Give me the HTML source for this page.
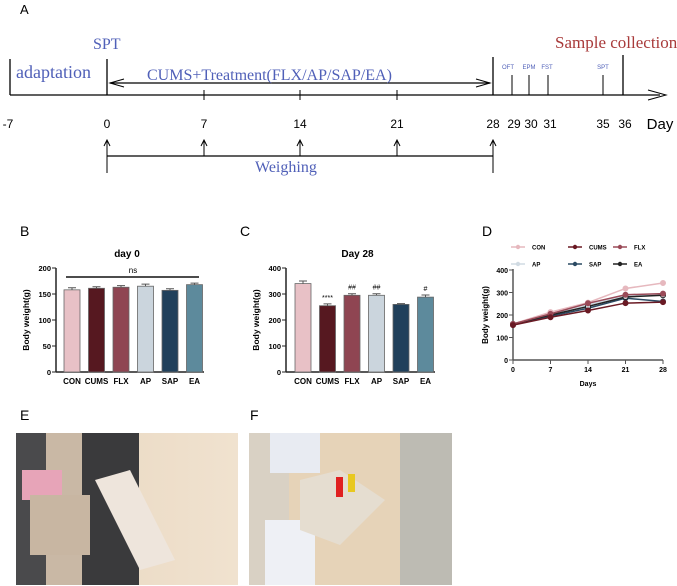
<!DOCTYPE html>
<html><head><meta charset="utf-8"><style>
body{margin:0;background:#fff;width:677px;height:586px;overflow:hidden;font-family:"Liberation Sans",sans-serif}
svg{position:absolute;left:0;top:0}
</style></head><body>
<svg width="677" height="586" viewBox="0 0 677 586">
<defs>
<linearGradient id="wood" x1="0" x2="1"><stop offset="0" stop-color="#e8d6bf"/><stop offset="1" stop-color="#f0e2cf"/></linearGradient>
</defs>
<!-- Panel A timeline -->
<g font-family="Liberation Serif, serif">
<text x="20" y="14" font-family="Liberation Sans" font-size="13">A</text>
<line x1="10" y1="95" x2="660" y2="95" stroke="#000" stroke-width="1.3"/>
<path d="M648 90 L666 95 L648 100" fill="none" stroke="#000" stroke-width="1"/>
<line x1="10" y1="59" x2="10" y2="95" stroke="#000" stroke-width="1.3"/>
<line x1="107" y1="59" x2="107" y2="95" stroke="#000" stroke-width="1.3"/>
<line x1="493" y1="57" x2="493" y2="95" stroke="#000" stroke-width="1.3"/>
<line x1="623" y1="55" x2="623" y2="95" stroke="#000" stroke-width="1.3"/>
<line x1="512" y1="75" x2="512" y2="95" stroke="#000"/>
<line x1="529" y1="75" x2="529" y2="95" stroke="#000"/>
<line x1="548" y1="75" x2="548" y2="95" stroke="#000"/>
<line x1="603" y1="75" x2="603" y2="95" stroke="#000"/>
<line x1="204" y1="90" x2="204" y2="100" stroke="#000"/>
<line x1="300" y1="90" x2="300" y2="100" stroke="#000"/>
<line x1="397" y1="90" x2="397" y2="100" stroke="#000"/>
<line x1="110" y1="83" x2="490" y2="83" stroke="#000" stroke-width="1.2"/>
<path d="M124 79 L110 83 L124 87 M476 79 L490 83 L476 87" fill="none" stroke="#000"/>
<g font-family="Liberation Sans" font-size="12" text-anchor="middle">
<text x="8" y="128">-7</text><text x="107" y="128">0</text><text x="204" y="128">7</text><text x="300" y="128">14</text><text x="397" y="128">21</text><text x="493" y="128">28</text><text x="514" y="128">29</text><text x="531" y="128">30</text><text x="550" y="128">31</text><text x="603" y="128">35</text><text x="625" y="128">36</text>
<text x="660" y="129" font-size="15">Day</text></g>
<text x="16" y="78" font-size="18" fill="#5060b8">adaptation</text>
<text x="93" y="49" font-size="16" fill="#5060b8">SPT</text>
<text x="147" y="80" font-size="16" fill="#5060b8">CUMS+Treatment(FLX/AP/SAP/EA)</text>
<text x="555" y="48" font-size="17" fill="#a83a3a">Sample collection</text>
<g font-family="Liberation Sans" font-size="6" fill="#5060b8" text-anchor="middle"><text x="508" y="69">OFT</text><text x="529" y="69">EPM</text><text x="547" y="69">FST</text><text x="603" y="69">SPT</text></g>
<line x1="107" y1="156" x2="493" y2="156" stroke="#000" stroke-width="1.2"/>
<line x1="107" y1="140" x2="107" y2="173" stroke="#000"/>
<line x1="493" y1="140" x2="493" y2="173" stroke="#000"/>
<g stroke="#000" fill="none"><path d="M204 156V140M201 146L204 140L207 146M300 156V140M297 146L300 140L303 146M397 156V140M394 146L397 140L400 146M104 146L107 140L110 146M490 146L493 140L496 146"/></g>
<text x="255" y="172" font-size="16" fill="#5060b8">Weighing</text>
</g>

<g font-family="Liberation Sans" font-weight="bold">
<text x="20" y="236" font-size="14" font-weight="normal">B</text>
<text x="240" y="236" font-size="14" font-weight="normal">C</text>
<text x="482" y="236" font-size="14" font-weight="normal">D</text>
<text x="20" y="420" font-size="14" font-weight="normal">E</text>
<text x="250" y="420" font-size="14" font-weight="normal">F</text>
</g>
<g id="chartB"></g>
<g id="chartC"></g>
<g id="chartD"></g>

<!-- Photo E -->
<g>
<rect x="16" y="433" width="222" height="152" fill="url(#wood)"/>
<rect x="16" y="433" width="30" height="152" fill="#4a4a4c"/>
<rect x="82" y="433" width="57" height="152" fill="#3a3a3c"/>
<rect x="46" y="433" width="36" height="152" fill="#c9b8a5"/>
<rect x="22" y="470" width="40" height="30" fill="#e7a4b8"/>
<path d="M95 480 L130 470 L175 560 L140 570 Z" fill="#eee5dc"/>
<rect x="30" y="495" width="60" height="60" fill="#c8b6a2"/>
</g>
<!-- Photo F -->
<g>
<rect x="249" y="433" width="203" height="152" fill="#e6d3b8"/>
<rect x="400" y="433" width="52" height="152" fill="#bdbbb3"/>
<rect x="249" y="433" width="40" height="152" fill="#d9d1c4"/>
<rect x="270" y="433" width="50" height="40" fill="#e8ebf2"/>
<rect x="265" y="520" width="50" height="65" fill="#eef0f5"/>
<path d="M300 480 L340 470 L385 500 L340 545 L300 530 Z" fill="#e5ddd0"/>
<rect x="336" y="477" width="7" height="20" fill="#e02020"/>
<rect x="348" y="474" width="7" height="18" fill="#e8c820"/>
</g>
</svg>
<script>
const groups=["CON","CUMS","FLX","AP","SAP","EA"];
const colors=["#e8c1c6","#561820","#8f4552","#cbd5dd","#20405b","#5d8a9c"];
const day0Values=[158,161,163,165,157,168];
const day0Err=[4,3,3,4,3,3];
const day28Values=[340,255,295,295,260,288];
const day28Err=[10,7,6,6,3,8];
const day28Marks=["","****","##","##","","#"];
const days=[0,7,14,21,28];
const conSeries=[160,213,255,318,342];
const cumsSeries=[155,190,220,253,257];
const flxSeries=[160,205,252,290,295];
const apSeries=[160,205,245,285,293];
const sapSeries=[158,195,230,275,260];
const eaSeries=[160,200,238,280,288];
const bTicks=[0,50,100,150,200];
const cTicks=[0,100,200,300,400];
const dTicks=[0,100,200,300,400];
const NS="http://www.w3.org/2000/svg";
function mk(p,t,a,txt){const e=document.createElementNS(NS,t);for(const k in a)e.setAttribute(k,a[k]);if(txt!==undefined)e.textContent=txt;p.appendChild(e);return e;}
function barChart(id,vals,errs,ticks,ymax,axX,x0,title,marks){
 const g=document.getElementById(id);
 const y=v=>372-v/ymax*104;
 const xc=i=>x0+i*24.5;
 mk(g,'text',{x:(axX+x0+122)/2+2,y:257,'font-size':10,'font-weight':'bold','text-anchor':'middle','font-family':'Liberation Sans'},title);
 mk(g,'line',{x1:axX,y1:268,x2:axX,y2:372,stroke:'#222','stroke-width':1.5});
 mk(g,'line',{x1:axX,y1:372,x2:x0+132,y2:372,stroke:'#222','stroke-width':1.5});
 ticks.forEach(t=>{mk(g,'line',{x1:axX-4,y1:y(t),x2:axX,y2:y(t),stroke:'#222'});
  const tl=mk(g,'text',{x:axX-5,y:y(t)+3,'font-size':7.5,'font-weight':'bold','text-anchor':'end','font-family':'Liberation Sans'},t);
  
  });
 const yl=mk(g,'text',{transform:`translate(${axX-27},320) rotate(-90)`,'font-size':8.5,'font-weight':'bold','text-anchor':'middle','font-family':'Liberation Sans'},'Body weight(g)');
 
 
 vals.forEach((v,i)=>{
  const r=mk(g,'rect',{x:xc(i)-8,y:y(v),width:16,height:372-y(v),fill:colors[i],stroke:'#666','stroke-width':0.8});
  
  
  mk(g,'path',{d:`M${xc(i)} ${y(v)}V${y(v+errs[i])}M${xc(i)-4} ${y(v+errs[i])}H${xc(i)+4}`,stroke:'#555',fill:'none'});
  const l=mk(g,'text',{x:xc(i),y:384,'font-size':8,'font-weight':'bold','text-anchor':'middle','font-family':'Liberation Sans'},groups[i]);
  
  
  if(marks&&marks[i]) mk(g,'text',{x:xc(i),y:y(v+errs[i])-4,'font-size':7,'text-anchor':'middle','font-family':'Liberation Sans'},marks[i]);
 });
 return {g,y,xc};
}
const b=barChart('chartB',day0Values,day0Err,bTicks,200,56,72,'day 0',null);
mk(b.g,'line',{x1:66,y1:277,x2:199,y2:277,stroke:'#111','stroke-width':1.5});
mk(b.g,'text',{x:133,y:273,'font-size':8,'text-anchor':'middle','font-family':'Liberation Sans'},'ns');
barChart('chartC',day28Values,day28Err,cTicks,400,286,303,'Day 28',day28Marks);
// line chart
(function(){
 const g=document.getElementById('chartD');
 const x=d=>513+d/28*150, y=v=>360-v/400*90;
 mk(g,'line',{x1:513,y1:269,x2:513,y2:360,stroke:'#555','stroke-width':1.5});
 mk(g,'line',{x1:513,y1:360,x2:663,y2:360,stroke:'#555','stroke-width':1.5});
 dTicks.forEach(t=>{mk(g,'line',{x1:509,y1:y(t),x2:513,y2:y(t),stroke:'#555'});
  mk(g,'text',{x:508,y:y(t)+3,'font-size':7,'font-weight':'bold','text-anchor':'end','font-family':'Liberation Sans'},t);});
 days.forEach(d=>{mk(g,'line',{x1:x(d),y1:360,x2:x(d),y2:364,stroke:'#555'});
  mk(g,'text',{x:x(d),y:372,'font-size':7,'font-weight':'bold','text-anchor':'middle','font-family':'Liberation Sans'},d);});
 mk(g,'text',{x:588,y:386,'font-size':7,'font-weight':'bold','text-anchor':'middle','font-family':'Liberation Sans'},'Days');
 mk(g,'text',{transform:'translate(488,315) rotate(-90)','font-size':8,'font-weight':'bold','text-anchor':'middle','font-family':'Liberation Sans'},'Body weight(g)');
 const series=[conSeries,cumsSeries,flxSeries,apSeries,sapSeries,eaSeries];
 const lc=["#e6b8be","#6a1a24","#9a4a58","#d0dae2","#2b4a63","#222"];
 const order=[3,0,4,5,2,1];
 order.forEach(i=>{
  const s=series[i];
  const p=mk(g,'polyline',{points:s.map((v,j)=>x(days[j])+','+y(v)).join(' '),fill:'none',stroke:lc[i],'stroke-width':1.5});
  
  
  s.forEach((v,j)=>mk(g,'circle',{cx:x(days[j]),cy:y(v),r:2.5,fill:i==5?'#cfd9e0':lc[i],stroke:lc[i]}));
 });
 const lx=[523,580,625,523,580,625], ly=[247,247,247,264,264,264];
 groups.forEach((n,i)=>{
  mk(g,'line',{x1:lx[i]-12,y1:ly[i],x2:lx[i]+2,y2:ly[i],stroke:lc[i],'stroke-width':1.5});
  mk(g,'circle',{cx:lx[i]-5,cy:ly[i],r:2.2,fill:lc[i]});
  const t=mk(g,'text',{x:lx[i]+9,y:ly[i]+2.5,'font-size':6,'font-weight':'bold','font-family':'Liberation Sans'},n);
  
  
 });
})();
</script>
</body></html>
